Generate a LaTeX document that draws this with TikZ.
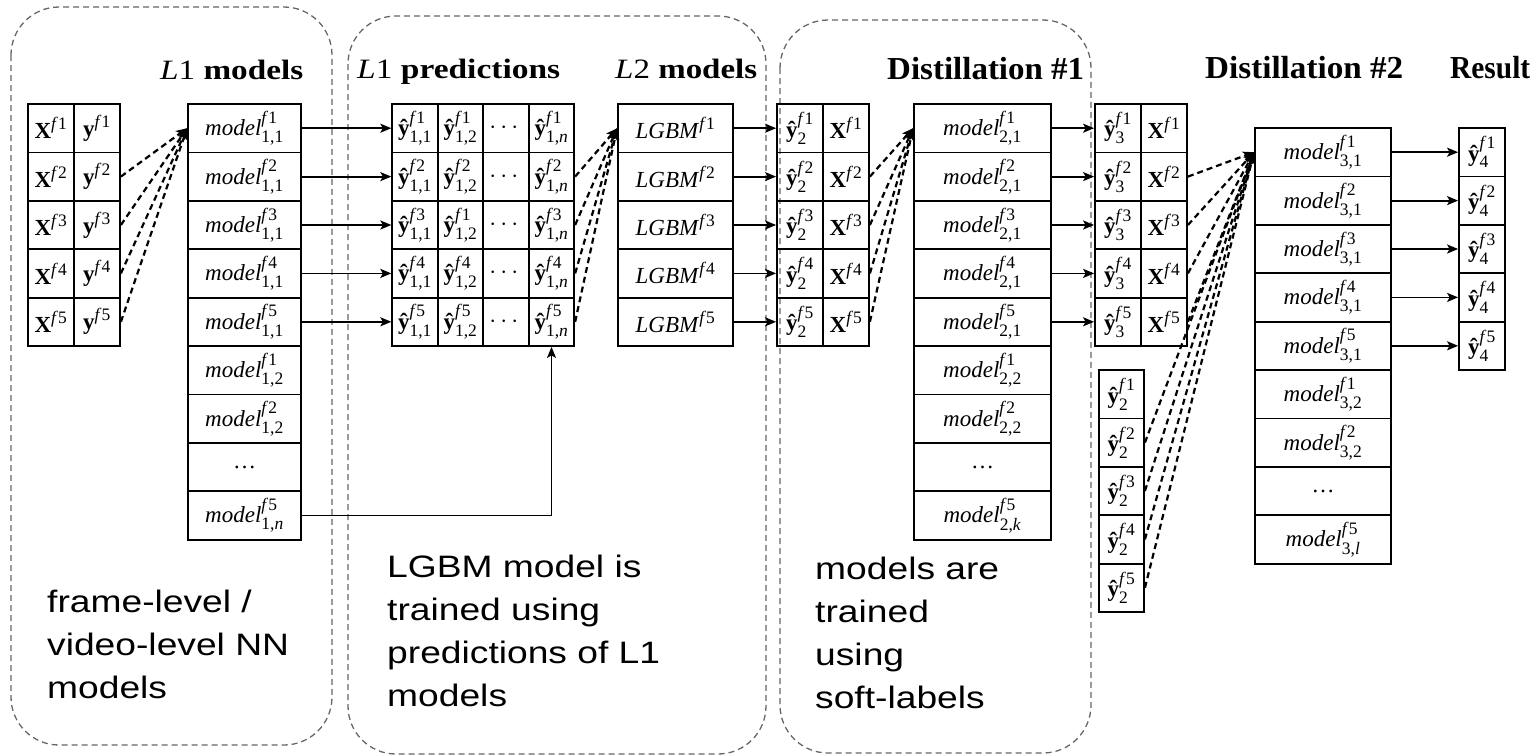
\documentclass[tikz,border=0pt]{standalone}
\usepackage{fontspec}
\setmainfont{Liberation Serif}
\newfontfamily\arialfont{Liberation Sans}
\usepackage{amsmath}
\usepackage{graphicx}
\usetikzlibrary{arrows.meta}
\DeclareMathSizes{23}{23}{17.5}{13}

\newcommand{\Xf}[1]{$\textbf{X}^{\text{\textit{f}#1}}$}
\newcommand{\yf}[1]{$\textbf{y}^{\text{\textit{f}#1}}$}
\newcommand{\yh}[2]{$\text{\textbf{ŷ}}^{\text{\textit{f}#1}}_{\text{#2}}$}
\newcommand{\mdl}[2]{$\text{\textit{model}}^{\text{\textit{f}#1}}_{\text{#2}}$}
\newcommand{\lgbm}[1]{$\text{\textit{LGBM}}^{\text{\textit{f}#1}}$}

\begin{document}
\begin{tikzpicture}[x=1pt,y=-1pt,
  cell/.style={draw, line width=1.8pt, inner sep=0pt, minimum height=48.4pt, font=\fontsize{23}{26}\selectfont},
  arr/.style={line width=1.8pt, -{Stealth[length=11pt,width=9pt,inset=2.5pt]}},
  darr/.style={line width=2.2pt, dash pattern=on 6pt off 4pt, -{Stealth[length=11pt,width=9pt,inset=2.5pt]}},
  groupbox/.style={draw=black!60, line width=1.3pt, dash pattern=on 6pt off 4pt, rounded corners=48pt},
  title/.style={anchor=base west, inner sep=0pt, font=\fontsize{28}{30}\selectfont},
  bigtitle/.style={anchor=base west, inner sep=0pt, font=\fontsize{32}{34}\selectfont},
  note/.style={anchor=base west, inner sep=0pt, font=\arialfont\fontsize{31}{43}\selectfont}
]
\useasboundingbox (0,0) rectangle (1538,755);

% group boxes
\draw[groupbox] (11,7) rectangle (332,745);
\draw[groupbox] (348,16) rectangle (766,754);
\draw[groupbox] (780,20) rectangle (1091,753);

% titles
\node[title] (tl1) at (160,79) {\resizebox{143pt}{\height}{\textit{L}1 \textbf{models}}};
\node[title] (tl2) at (357,78) {\resizebox{203pt}{\height}{\textit{L}1 \textbf{predictions}}};
\node[title] (tl3) at (615,78) {\resizebox{142pt}{\height}{\textit{L}2 \textbf{models}}};
\node[bigtitle] (tl4) at (887,79) {\resizebox{197pt}{\height}{\textbf{Distillation \#1}}};
\node[bigtitle] (tl5) at (1205,78) {\resizebox{198pt}{\height}{\textbf{Distillation \#2}}};
\node[bigtitle] (tl6) at (1450,78) {\resizebox{80pt}{\height}{\textbf{Result}}};

% input table
\foreach \i in {1,...,5} {
  \node[cell, minimum width=46pt] (t-\i-1) at (51,{104+(\i-0.5)*48.4}) {\Xf{\i}};
  \node[cell, minimum width=46pt] (t-\i-2) at (97,{104+(\i-0.5)*48.4}) {\yf{\i}};
}

% L1 models
\foreach \i in {1,...,5} {
  \node[cell, minimum width=113pt] (m1-\i) at (244.5,{104+(\i-0.5)*48.4}) {\mdl{\i}{1,1}};
}
\node[cell, minimum width=113pt] (m1-6) at (244.5,{104+5.5*48.4}) {\mdl{1}{1,2}};
\node[cell, minimum width=113pt] (m1-7) at (244.5,{104+6.5*48.4}) {\mdl{2}{1,2}};
\node[cell, minimum width=113pt] (m1-8) at (244.5,{104+7.5*48.4}) {\ldots};
\node[cell, minimum width=113pt] (m1-9) at (244.5,{104+8.5*48.4}) {\mdl{5}{1,\textit{n}}};

% L1 predictions
\foreach \i/\j in {1/1,2/2,3/1,4/4,5/5} {
  \node[cell, minimum width=45.5pt] (p-\i-1) at (415,{104+(\i-0.5)*48.4}) {\yh{\i}{1,1}};
  \node[cell, minimum width=45.5pt] (p-\i-2) at (460.5,{104+(\i-0.5)*48.4}) {\yh{\j}{1,2}};
  \node[cell, minimum width=45.5pt] (p-\i-3) at (506,{104+(\i-0.5)*48.4}) {$\cdots$};
  \node[cell, minimum width=45.5pt] (p-\i-4) at (551.5,{104+(\i-0.5)*48.4}) {\yh{\i}{1,\textit{n}}};
}

% L2 models
\foreach \i in {1,...,5} {
  \node[cell, minimum width=115pt] (l2-\i) at (675.5,{104+(\i-0.5)*48.4}) {\lgbm{\i}};
}

% Distillation 1 inputs
\foreach \i in {1,...,5} {
  \node[cell, minimum width=46pt] (d1-\i-1) at (800,{104+(\i-0.5)*48.4}) {\yh{\i}{2}};
  \node[cell, minimum width=46pt] (d1-\i-2) at (846,{104+(\i-0.5)*48.4}) {\Xf{\i}};
}

% model 2
\foreach \i in {1,...,5} {
  \node[cell, minimum width=137pt] (m2-\i) at (982.5,{104+(\i-0.5)*48.4}) {\mdl{\i}{2,1}};
}
\node[cell, minimum width=137pt] (m2-6) at (982.5,{104+5.5*48.4}) {\mdl{1}{2,2}};
\node[cell, minimum width=137pt] (m2-7) at (982.5,{104+6.5*48.4}) {\mdl{2}{2,2}};
\node[cell, minimum width=137pt] (m2-8) at (982.5,{104+7.5*48.4}) {\ldots};
\node[cell, minimum width=137pt] (m2-9) at (982.5,{104+8.5*48.4}) {\mdl{5}{2,\textit{k}}};

% Distillation 2 inputs
\foreach \i in {1,...,5} {
  \node[cell, minimum width=46pt] (d2-\i-1) at (1118,{104+(\i-0.5)*48.4}) {\yh{\i}{3}};
  \node[cell, minimum width=46pt] (d2-\i-2) at (1164,{104+(\i-0.5)*48.4}) {\Xf{\i}};
  \node[cell, minimum width=45pt] (s-\i) at (1121.5,{370+(\i-0.5)*48.4}) {\yh{\i}{2}};
}

% model 3
\foreach \i in {1,...,5} {
  \node[cell, minimum width=136pt] (m3-\i) at (1323,{128+(\i-0.5)*48.4}) {\mdl{\i}{3,1}};
}
\node[cell, minimum width=136pt] (m3-6) at (1323,{128+5.5*48.4}) {\mdl{1}{3,2}};
\node[cell, minimum width=136pt] (m3-7) at (1323,{128+6.5*48.4}) {\mdl{2}{3,2}};
\node[cell, minimum width=136pt] (m3-8) at (1323,{128+7.5*48.4}) {\ldots};
\node[cell, minimum width=136pt] (m3-9) at (1323,{128+8.5*48.4}) {\mdl{5}{3,\textit{l}}};

% results
\foreach \i in {1,...,5} {
  \node[cell, minimum width=46pt] (r-\i) at (1482,{128+(\i-0.5)*48.4}) {\yh{\i}{4}};
}

% solid arrows
\foreach \i in {1,...,5} {
  \draw[arr] (m1-\i.east) -- (p-\i-1.west);
  \draw[arr] (l2-\i.east) -- (d1-\i-1.west);
  \draw[arr] (m2-\i.east) -- (d2-\i-1.west);
  \draw[arr] (m3-\i.east) -- (r-\i.west);
}
\draw[arr] (m1-9.east) -| (p-5-4.south);

% dashed arrows
\foreach \i in {2,...,5} {
  \draw[darr] (t-\i-2.east) -- (m1-1.west);
  \draw[darr] (p-\i-4.east) -- (l2-1.west);
  \draw[darr] (d1-\i-2.east) -- (m2-1.west);
  \draw[darr] (d2-\i-2.east) -- (m3-1.west);
  \draw[darr] (s-\i.east) -- (m3-1.west);
}

% notes
\node[note] (n1) at (47,612) {\scalebox{1.2}[1]{\begin{tabular}[t]{@{}l@{}}frame-level /\\video-level NN\\models\end{tabular}}};
\node[note] (n2) at (387,577) {\scalebox{1.2}[1]{\begin{tabular}[t]{@{}l@{}}LGBM model is\\trained using\\predictions of L1\\models\end{tabular}}};
\node[note] (n3) at (815,579) {\scalebox{1.2}[1]{\begin{tabular}[t]{@{}l@{}}models are\\trained\\using\\soft-labels\end{tabular}}};
\end{tikzpicture}
\end{document}
